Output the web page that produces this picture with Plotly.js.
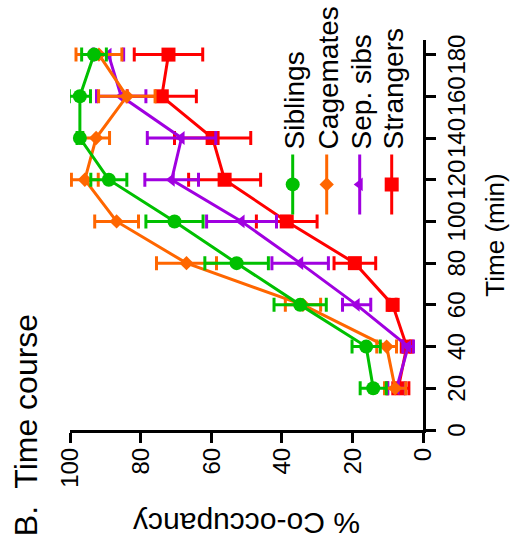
<!DOCTYPE html>
<html>
<head>
<meta charset="utf-8">
<script src="https://cdn.plot.ly/plotly-3.0.1.min.js"></script>
<style>
  html, body { margin: 0; padding: 0; overflow: hidden; background: #fff; width: 514px; height: 551px; }
  /* the figure is laid out landscape and turned a quarter turn counter-clockwise */
  #chart { position: absolute; left: 0; top: 0; width: 551px; height: 514px;
           transform-origin: 0 0; transform: translate(0, 551px) rotate(-90deg); }
</style>
</head>
<body>
<div id="chart"></div>
<script>
// Time after pairing (min)
const timeMin = [20, 40, 60, 80, 100, 120, 140, 160, 180];

// % co-occupancy, mean and error per group
const siblings       = [14.1, 16.1, 34.8, 52.8, 70.4, 89.0, 97.2, 97.2, 93.2];
const siblingsErr    = [3.7, 4.0, 7.4, 9.0, 8.1, 5.1, 0.8, 3.0, 3.5];
const cagemates      = [7.9, 10.3, 34.0, 67.0, 86.8, 95.8, 92.6, 83.9, 91.8];
const cagematesErr   = [3.0, 2.8, 5.0, 8.5, 6.2, 3.8, 3.8, 8.0, 6.5];
const sepSibs        = [7.5, 4.2, 18.8, 34.8, 51.4, 71.2, 68.4, 85.5, 89.1];
const sepSibsErr     = [2.5, 1.5, 4.0, 8.0, 9.9, 7.6, 9.7, 7.0, 4.3];
const strangers      = [7.0, 4.6, 8.6, 19.3, 38.6, 56.2, 59.6, 74.0, 72.1];
const strangersErr   = [3.0, 1.0, 1.0, 5.9, 8.6, 10.2, 10.8, 9.8, 9.7];

const groupNames = ['Siblings', 'Cagemates', 'Sep. sibs', 'Strangers'];

const FONT = 'Liberation Sans, Arial, Helvetica, sans-serif';

function series(name, y, err, color, symbol, size, legendId) {
  return {
    type: 'scatter', mode: 'lines+markers', name: name,
    x: timeMin, y: y,
    line: { color: color, width: 3 },
    marker: { color: color, symbol: symbol, size: size },
    error_y: { type: 'data', array: err, visible: true, color: color, thickness: 3, width: 7 },
    cliponaxis: false,
    legend: legendId
  };
}

// drawn back to front: strangers underneath, siblings on top
const traces = [
  series(groupNames[3], strangers, strangersErr, '#ff0000', 'square', 14, 'legend4'),
  series(groupNames[2], sepSibs, sepSibsErr, '#a000e0', 'triangle-up', 12, 'legend3'),
  series(groupNames[1], cagemates, cagematesErr, '#ff6600', 'diamond', 11, 'legend2'),
  series(groupNames[0], siblings, siblingsErr, '#00c000', 'circle', 14, 'legend')
];

// one legend box per group so each row sits at its own height
function legendAt(y) {
  return { x: 0.54, y: y, xanchor: 'left', yanchor: 'middle',
           bgcolor: 'rgba(0,0,0,0)', borderwidth: 0, itemwidth: 60,
           font: { family: FONT, size: 28, color: '#000' } };
}

const axisStyle = {
  showline: true, linewidth: 3, linecolor: '#000',
  ticks: 'outside', ticklen: 10, tickwidth: 3, tickcolor: '#000',
  showgrid: false, zeroline: false, fixedrange: true, tickangle: 0, automargin: false,
  tickfont: { family: FONT, size: 24, color: '#000' }
};

const layout = {
  width: 551, height: 514,
  margin: { l: 121, r: 40, t: 70, b: 91, pad: 0, autoexpand: false },
  paper_bgcolor: '#fff', plot_bgcolor: '#fff',
  font: { family: FONT, color: '#000', size: 24 },
  showlegend: true,
  title: { text: 'B.  Time course', font: { family: FONT, size: 32, color: '#000' },
           xref: 'container', x: 0.027, xanchor: 'left',
           yref: 'container', y: 0.95, yanchor: 'middle' },
  xaxis: Object.assign({}, axisStyle, {
    range: [0, 187], tick0: 0, dtick: 20,
    title: { text: 'Time (min)', font: { family: FONT, size: 26, color: '#000' }, standoff: 18 }
  }),
  yaxis: Object.assign({}, axisStyle, {
    range: [0, 100], tick0: 0, dtick: 20,
    title: { text: '% Co-occupancy', font: { family: FONT, size: 30, color: '#000' }, standoff: 16 }
  }),
  legend: legendAt(1 - (293 - 70) / 353),
  legend2: legendAt(1 - (327 - 70) / 353),
  legend3: legendAt(1 - (360 - 70) / 353),
  legend4: legendAt(1 - (392 - 70) / 353)
};

Plotly.newPlot('chart', traces, layout, { displayModeBar: false, staticPlot: true });
</script>
</body>
</html>
